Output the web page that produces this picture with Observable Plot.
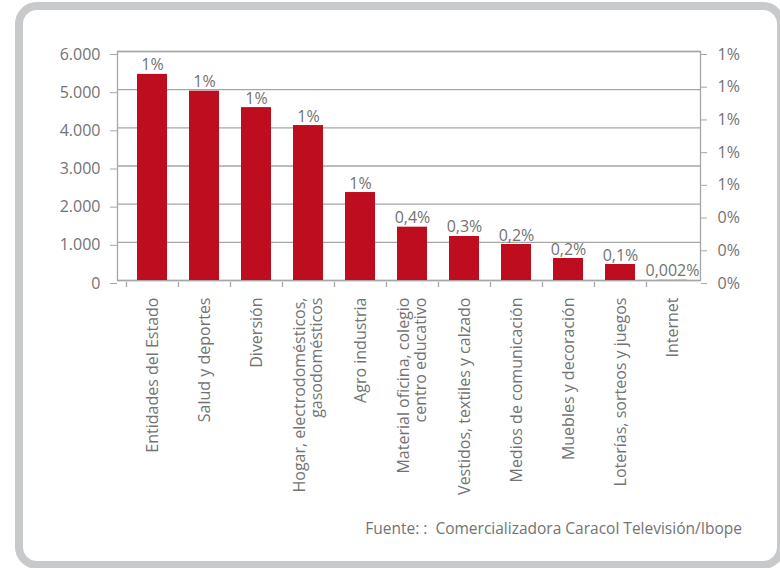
<!DOCTYPE html>
<html>
<head>
<meta charset="utf-8">
<script src="https://cdn.jsdelivr.net/npm/d3@7"></script>
<script src="https://cdn.jsdelivr.net/npm/@observablehq/plot@0.6"></script>
<style>
  html, body { margin: 0; padding: 0; background: #fff; }
  #wrap { position: relative; width: 780px; height: 568px; overflow: hidden; font-family: "Open Sans", sans-serif; }
  #frame { position: absolute; left: 15px; top: 2px; width: 754px; height: 551px; border: 8px solid #c8c9cb; border-radius: 22px; }
  #chart { position: absolute; left: 0; top: 0; }
  #caption { position: absolute; right: 38px; top: 517px; font-size: 15.5px; color: #737373; white-space: pre; }
</style>
</head>
<body>
<div id="wrap">
  <div id="frame"></div>
  <div id="chart"></div>
  <div id="caption">Fuente: :  Comercializadora Caracol Televisión/Ibope</div>
</div>
<script>
const categories = [
  "Entidades del Estado",
  "Salud y deportes",
  "Diversión",
  "Hogar, electrodomésticos,\ngasodomésticos",
  "Agro industria",
  "Material oficina, colegio\ncentro educativo",
  "Vestidos, textiles y calzado",
  "Medios de comunicación",
  "Muebles y decoración",
  "Loterías, sorteos y juegos",
  "Internet"
];
const values = [5400, 4960, 4530, 4060, 2305, 1397, 1153, 943, 576, 419, 15];
const shareLabels = ["1%", "1%", "1%", "1%", "1%", "0,4%", "0,3%", "0,2%", "0,2%", "0,1%", "0,002%"];
const leftTicks = [0, 1000, 2000, 3000, 4000, 5000, 6000];
const rightTicks = [0, 0.002, 0.004, 0.006, 0.008, 0.010, 0.012, 0.014];

const leftMax = 6000;
const rightMax = 0.014;

const data = categories.map((c, i) => ({cat: c, value: values[i], label: shareLabels[i]}));

const esLocale = d3.formatLocale({decimal: ",", thousands: ".", grouping: [3], currency: ["", "€"]});
const fmtLeft = esLocale.format(",d");
const fmtPct = d3.format(".0%");

const textColor = "#737373";
const lineColor = "#a6a6a6";
const H = 500;

const chart = Plot.plot({
  width: 780,
  height: H,
  marginTop: 51,
  marginBottom: H - 280,
  marginLeft: 117,
  marginRight: 80,
  style: {fontFamily: "'Open Sans', sans-serif", fontSize: "16px", color: textColor, background: "transparent"},
  x: {domain: categories, range: [124, 700], paddingInner: 0.42, paddingOuter: 0.21},
  y: {domain: [0, leftMax]},
  marks: [
    Plot.gridY(leftTicks, {stroke: lineColor, strokeOpacity: 1, strokeWidth: 1.3}),
    Plot.frame({stroke: lineColor, strokeWidth: 1.3}),
    Plot.barY(data, {x: "cat", y: "value", fill: d => d.cat === "Internet" ? "#aab6c4" : "#be0d1f"}),
    Plot.text(data, {x: "cat", y: "value", text: "label", lineAnchor: "bottom", dy: -4, fill: textColor, fontSize: 16}),
    Plot.axisY(leftTicks, {anchor: "left", tickSize: 7, tickPadding: 10, tickFormat: fmtLeft, stroke: lineColor, fill: textColor, dy: 3, label: null, fontSize: 16}),
    Plot.axisY(rightTicks.map(p => p / rightMax * leftMax), {anchor: "right", tickSize: 6, tickPadding: 11, tickFormat: d => fmtPct(d / leftMax * rightMax), stroke: lineColor, fill: textColor, dy: 3, label: null, fontSize: 16}),
    Plot.ruleX(categories, {x: d => d, dx: -26, y1: 0, y2: 0, insetTop: 2, insetBottom: -7, stroke: lineColor, strokeWidth: 1.3}),
    Plot.axisX({anchor: "bottom", tickSize: 0, tickPadding: 17, tickRotate: -90, fill: textColor, label: null, fontSize: 16, lineHeight: 1.05})
  ]
});
document.getElementById("chart").appendChild(chart);
</script>
</body>
</html>
